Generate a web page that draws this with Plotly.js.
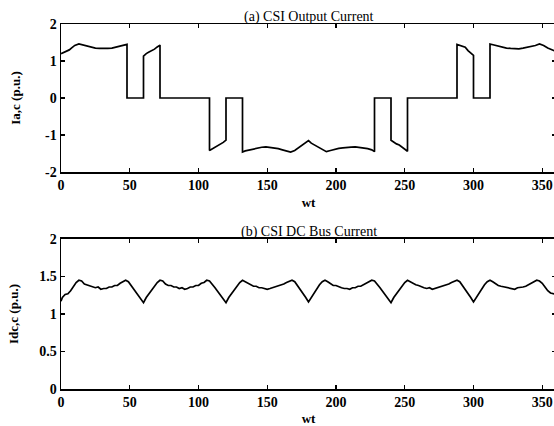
<!DOCTYPE html>
<html>
<head>
<meta charset="utf-8">
<script src="https://cdn.plot.ly/plotly-3.0.1.min.js"></script>
<style>
  html, body { margin: 0; padding: 0; overflow: hidden; background: #fff; }
  #chart { width: 560px; height: 432px; }
</style>
</head>
<body>
<div id="chart"></div>
<script>
// (a) CSI output current, phase a (p.u.) versus electrical angle wt (deg).
// Repeated x values mark the switching instants (vertical edges).
const iaX = [0, 2, 4, 6, 8, 10, 13, 16, 19, 22, 25, 28, 31, 34, 37, 40, 43, 46, 48,
  48, 60,
  60, 62, 64, 66, 68, 70, 72,
  72, 108,
  108, 110, 113, 116, 118, 120,
  120, 132,
  132, 134, 137, 140, 143, 146, 149, 152, 155, 158, 161, 164, 167, 170, 173, 176, 178, 180,
  182, 184, 187, 190, 193, 196, 199, 202, 205, 208, 211, 214, 217, 220, 223, 226, 228,
  228, 240,
  240, 242, 244, 246, 248, 250, 252,
  252, 288,
  288, 290, 292, 294, 296, 298, 300,
  300, 312,
  312, 315, 318, 321, 324, 327, 330, 333, 336, 339, 342, 345, 348, 351, 354, 357, 360];
const iaY = [1.20, 1.23, 1.26, 1.30, 1.36, 1.42, 1.46, 1.43, 1.40, 1.38, 1.35, 1.34, 1.33, 1.34, 1.35, 1.38, 1.40, 1.44, 1.45,
  0, 0,
  1.13, 1.20, 1.24, 1.27, 1.32, 1.38, 1.43,
  0, 0,
  -1.42, -1.38, -1.30, -1.25, -1.20, -1.14,
  0, 0,
  -1.46, -1.43, -1.40, -1.37, -1.35, -1.33, -1.32, -1.33, -1.34, -1.37, -1.40, -1.42, -1.46, -1.42, -1.34, -1.27, -1.22, -1.15,
  -1.22, -1.26, -1.33, -1.40, -1.45, -1.42, -1.38, -1.36, -1.35, -1.33, -1.33, -1.32, -1.33, -1.35, -1.37, -1.40, -1.45,
  0, 0,
  -1.14, -1.20, -1.24, -1.27, -1.32, -1.38, -1.44,
  0, 0,
  1.45, 1.43, 1.40, 1.37, 1.28, 1.22, 1.15,
  0, 0,
  1.46, 1.43, 1.40, 1.37, 1.35, 1.34, 1.33, 1.33, 1.35, 1.37, 1.39, 1.42, 1.46, 1.42, 1.35, 1.30, 1.26];

// (b) CSI DC bus current (p.u.) versus wt (deg).
const idcX = [0, 1, 3, 5, 7, 9, 11, 13, 15, 17, 19, 21, 23, 25, 27, 29, 31, 33, 35, 37, 39, 41, 43, 45, 47, 49, 51, 53, 55, 57, 59, 60,
  62, 64, 66, 68, 70, 72, 74, 76, 78, 80, 82, 84, 86, 88, 90, 92, 94, 96, 98, 100, 102, 104, 106, 108, 110, 112, 114, 116, 118, 120,
  122, 124, 126, 128, 130, 132, 134, 136, 138, 140, 142, 144, 146, 148, 150, 152, 154, 156, 158, 160, 162, 164, 166, 168, 170, 172, 174, 176, 178, 180,
  182, 184, 186, 188, 190, 192, 194, 196, 198, 200, 202, 204, 206, 208, 210, 212, 214, 216, 218, 220, 222, 224, 226, 228, 230, 232, 234, 236, 238, 240,
  242, 244, 246, 248, 250, 252, 254, 256, 258, 260, 262, 264, 266, 268, 270, 272, 274, 276, 278, 280, 282, 284, 286, 288, 290, 292, 294, 296, 298, 300,
  302, 304, 306, 308, 310, 312, 314, 316, 318, 320, 322, 324, 326, 328, 330, 332, 334, 336, 338, 340, 342, 344, 346, 348, 350, 352, 354, 356, 358, 360];
const idcY = [1.17, 1.22, 1.26, 1.27, 1.31, 1.37, 1.42, 1.45, 1.44, 1.40, 1.39, 1.38, 1.37, 1.35, 1.36, 1.33, 1.34, 1.34, 1.36, 1.36, 1.38, 1.38, 1.41, 1.43, 1.45, 1.43, 1.38, 1.33, 1.29, 1.24, 1.19, 1.15,
  1.22, 1.27, 1.32, 1.38, 1.42, 1.45, 1.44, 1.40, 1.38, 1.38, 1.36, 1.36, 1.34, 1.35, 1.33, 1.34, 1.36, 1.36, 1.38, 1.38, 1.41, 1.42, 1.45, 1.44, 1.40, 1.35, 1.30, 1.25, 1.20, 1.15,
  1.22, 1.27, 1.33, 1.38, 1.42, 1.45, 1.43, 1.40, 1.39, 1.37, 1.37, 1.35, 1.35, 1.34, 1.33, 1.34, 1.35, 1.36, 1.37, 1.38, 1.40, 1.42, 1.44, 1.45, 1.43, 1.38, 1.33, 1.28, 1.22, 1.16,
  1.22, 1.28, 1.33, 1.39, 1.43, 1.45, 1.43, 1.40, 1.38, 1.38, 1.36, 1.35, 1.34, 1.34, 1.33, 1.35, 1.35, 1.37, 1.37, 1.39, 1.40, 1.42, 1.45, 1.44, 1.40, 1.35, 1.30, 1.25, 1.20, 1.15,
  1.22, 1.27, 1.33, 1.38, 1.42, 1.45, 1.43, 1.40, 1.39, 1.38, 1.36, 1.35, 1.34, 1.35, 1.33, 1.34, 1.35, 1.36, 1.37, 1.38, 1.40, 1.42, 1.44, 1.45, 1.43, 1.38, 1.33, 1.28, 1.22, 1.16,
  1.22, 1.28, 1.33, 1.39, 1.43, 1.45, 1.43, 1.40, 1.38, 1.37, 1.36, 1.35, 1.34, 1.34, 1.33, 1.35, 1.35, 1.36, 1.37, 1.39, 1.40, 1.42, 1.45, 1.44, 1.41, 1.36, 1.31, 1.28, 1.27, 1.26];

const xTicks = [0, 50, 100, 150, 200, 250, 300, 350];
const iaTicks = [-2, -1, 0, 1, 2];
const idcTicks = [0, 0.5, 1, 1.5, 2];
const titleA = '(a) CSI Output Current';
const titleB = '(b) CSI DC Bus Current';

const serif = { family: 'Liberation Serif, Times New Roman, serif', size: 14, color: '#000', weight: 'bold' };
const labelFont = Object.assign({}, serif, { size: 13 });
const headFont = Object.assign({}, serif, { size: 14, weight: 'normal' });

const frame = {
  showline: true, linecolor: '#000', linewidth: 1.5, mirror: 'ticks',
  ticks: 'inside', ticklen: 4, tickwidth: 1.2, tickcolor: '#000',
  showgrid: false, zeroline: false, tickfont: serif
};

const traces = [
  { x: iaX, y: iaY, xaxis: 'x', yaxis: 'y', mode: 'lines',
    line: { color: '#000', width: 1.7 }, hoverinfo: 'skip' },
  { x: idcX, y: idcY, xaxis: 'x2', yaxis: 'y2', mode: 'lines',
    line: { color: '#000', width: 1.7 }, hoverinfo: 'skip' }
];

// plot area: x 61..556 px, panel (a) 24..172 px, panel (b) 239..389 px
const layout = {
  width: 560, height: 432,
  margin: { l: 61, r: 4, t: 24, b: 43 },
  paper_bgcolor: '#fff', plot_bgcolor: '#fff',
  showlegend: false,
  xaxis: Object.assign({}, frame, {
    domain: [0, 1], anchor: 'y', range: [0, 360],
    tickvals: xTicks, ticktext: xTicks.map(String),
    title: { text: 'wt', font: labelFont, standoff: 5 }
  }),
  yaxis: Object.assign({}, frame, {
    domain: [0.5945, 1], anchor: 'x', range: [-2, 2],
    tickvals: iaTicks, ticktext: iaTicks.map(String),
    title: { text: 'Ia,c (p.u.)', font: labelFont, standoff: 21 }
  }),
  xaxis2: Object.assign({}, frame, {
    domain: [0, 1], anchor: 'y2', range: [0, 360],
    tickvals: xTicks, ticktext: xTicks.map(String),
    title: { text: 'wt', font: labelFont, standoff: 4 }
  }),
  yaxis2: Object.assign({}, frame, {
    domain: [0, 0.411], anchor: 'x2', range: [0, 2],
    tickvals: idcTicks, ticktext: idcTicks.map(String),
    title: { text: 'Idc,c (p.u.)', font: labelFont, standoff: 17 }
  }),
  annotations: [
    { text: titleA, xref: 'x domain', yref: 'y domain', x: 0.5, y: 1,
      xanchor: 'center', yanchor: 'bottom', yshift: -2, borderpad: 0, showarrow: false,
      font: headFont },
    { text: titleB, xref: 'x2 domain', yref: 'y2 domain', x: 0.5, y: 1,
      xanchor: 'center', yanchor: 'bottom', yshift: -2, borderpad: 0, showarrow: false,
      font: headFont }
  ]
};

Plotly.newPlot('chart', traces, layout, { displayModeBar: false, staticPlot: true });
</script>
</body>
</html>
